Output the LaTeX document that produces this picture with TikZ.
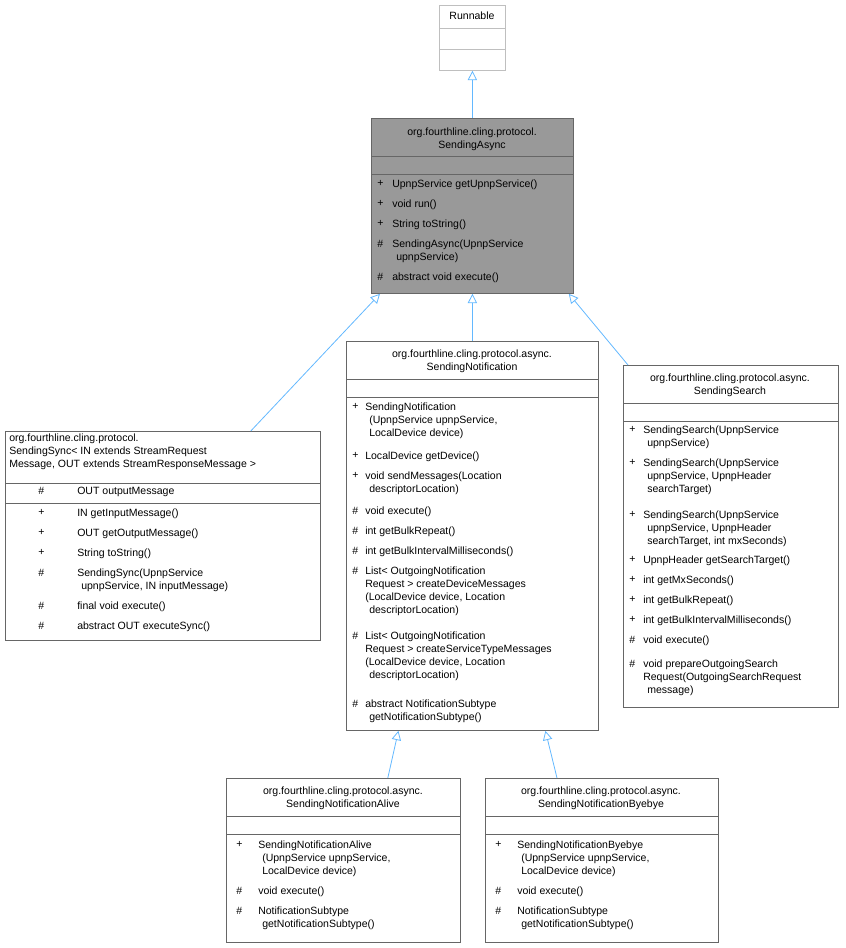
\documentclass[tikz,border=0pt]{standalone}
\usepackage{fontspec}
\setmainfont{Liberation Sans}
\usetikzlibrary{arrows.meta}
\definecolor{edgeblue}{HTML}{63B8FF}
\definecolor{boxline}{HTML}{666666}
\begin{document}
\begin{tikzpicture}[x=0.75pt,y=-0.75pt,
  cls/.style={draw=boxline, line width=0.6pt, anchor=north west, inner sep=0pt},
  sep/.style={draw=boxline, line width=0.6pt},
  txt/.style={inner sep=0pt, font=\fontsize{7.9}{9.75}\selectfont},
  inherit/.style={draw=edgeblue, line width=0.6pt, -{Triangle[open, length=7pt, width=7pt]}}]

 % Parameters
 \def\mem#1#2#3#4#5{%
   \node[txt, anchor=north west] at (#1,#3-6) {#4};
   \node[txt, anchor=north west, align=left] at (#2,#3-6) {#5};}
 \useasboundingbox (0,0) rectangle (845,948);

 % Runnable
 \node[cls, draw=gray!50, minimum width=49.5pt, minimum height=48.75pt] (runnable) at (439,5) {};
 \draw[draw=gray!50] (439,28) -- (505,28) (439,49) -- (505,49);
 \node[txt] at (472,16) {Runnable};

 % SendingAsync
 \node[cls, fill=black!40, minimum width=151.5pt, minimum height=131.25pt] (async) at (371,118) {};
 \draw[sep] (371,156) -- (573,156) (371,174) -- (573,174);
 \node[txt, align=center] at (472,139) {org.fourthline.cling.protocol.\\SendingAsync};
 \mem{377}{392}{186}{+}{UpnpService getUpnpService()}
 \mem{377}{392}{206}{+}{void run()}
 \mem{377}{392}{226}{+}{String toString()}
 \mem{377}{392}{246}{\#}{SendingAsync(UpnpService\\\hspace*{3pt}upnpService)}
 \mem{377}{392}{279}{\#}{abstract void execute()}

 % SendingSync
 \node[cls, fill=white, minimum width=236.25pt, minimum height=156.75pt] (sync) at (5,431) {};
 \draw[sep] (5,483) -- (320,483) (5,503) -- (320,503);
 \node[txt, anchor=north west, align=left] at (9,434) {org.fourthline.cling.protocol.\\SendingSync\textless{} IN extends StreamRequest\\Message, OUT extends StreamResponseMessage \textgreater};
 \mem{38}{77}{493}{\#}{OUT outputMessage}
 \mem{38}{77}{515}{+}{IN getInputMessage()}
 \mem{38}{77}{535}{+}{OUT getOutputMessage()}
 \mem{38}{77}{555}{+}{String toString()}
 \mem{38}{77}{575}{\#}{SendingSync(UpnpService\\\hspace*{3pt}upnpService, IN inputMessage)}
 \mem{38}{77}{608}{\#}{final void execute()}
 \mem{38}{77}{628}{\#}{abstract OUT executeSync()}

 % SendingNotification
 \node[cls, fill=white, minimum width=189pt, minimum height=291.75pt] (notif) at (346,341) {};
 \draw[sep] (346,379) -- (598,379) (346,397) -- (598,397);
 \node[txt, align=center] at (472,361) {org.fourthline.cling.protocol.async.\\SendingNotification};
 \mem{352}{365}{409}{+}{SendingNotification\\\hspace*{3pt}(UpnpService upnpService,\\\hspace*{3pt}LocalDevice device)}
 \mem{352}{365}{458}{+}{LocalDevice getDevice()}
 \mem{352}{365}{478}{+}{void sendMessages(Location\\\hspace*{3pt}descriptorLocation)}
 \mem{352}{365}{513}{\#}{void execute()}
 \mem{352}{365}{533}{\#}{int getBulkRepeat()}
 \mem{352}{365}{553}{\#}{int getBulkIntervalMilliseconds()}
 \mem{352}{365}{573}{\#}{List\textless{} OutgoingNotification\\Request \textgreater{} createDeviceMessages\\(LocalDevice device, Location\\\hspace*{3pt}descriptorLocation)}
 \mem{352}{365}{638}{\#}{List\textless{} OutgoingNotification\\Request \textgreater{} createServiceTypeMessages\\(LocalDevice device, Location\\\hspace*{3pt}descriptorLocation)}
 \mem{352}{365}{706}{\#}{abstract NotificationSubtype\\\hspace*{3pt}getNotificationSubtype()}

 % SendingSearch
 \node[cls, fill=white, minimum width=161.25pt, minimum height=256.5pt] (search) at (623,365) {};
 \draw[sep] (623,403) -- (838,403) (623,421) -- (838,421);
 \node[txt, align=center] at (730,385) {org.fourthline.cling.protocol.async.\\SendingSearch};
 \mem{629}{643}{432}{+}{SendingSearch(UpnpService\\\hspace*{3pt}upnpService)}
 \mem{629}{643}{465}{+}{SendingSearch(UpnpService\\\hspace*{3pt}upnpService, UpnpHeader\\\hspace*{3pt}searchTarget)}
 \mem{629}{643}{517}{+}{SendingSearch(UpnpService\\\hspace*{3pt}upnpService, UpnpHeader\\\hspace*{3pt}searchTarget, int mxSeconds)}
 \mem{629}{643}{562}{+}{UpnpHeader getSearchTarget()}
 \mem{629}{643}{582}{+}{int getMxSeconds()}
 \mem{629}{643}{602}{+}{int getBulkRepeat()}
 \mem{629}{643}{622}{+}{int getBulkIntervalMilliseconds()}
 \mem{629}{643}{642}{\#}{void execute()}
 \mem{629}{643}{666}{\#}{void prepareOutgoingSearch\\Request(OutgoingSearchRequest\\\hspace*{3pt}message)}

 % SendingNotificationAlive
 \node[cls, fill=white, minimum width=175.5pt, minimum height=123pt] (alive) at (226,778) {};
 \draw[sep] (226,816) -- (460,816) (226,834) -- (460,834);
 \node[txt, align=center] at (343,798) {org.fourthline.cling.protocol.async.\\SendingNotificationAlive};
 \mem{236}{258}{847}{+}{SendingNotificationAlive\\\hspace*{3pt}(UpnpService upnpService,\\\hspace*{3pt}LocalDevice device)}
 \mem{236}{258}{893}{\#}{void execute()}
 \mem{236}{258}{913}{\#}{NotificationSubtype\\\hspace*{3pt}getNotificationSubtype()}

 % SendingNotificationByebye
 \node[cls, fill=white, minimum width=174.75pt, minimum height=123pt] (byebye) at (485,778) {};
 \draw[sep] (485,816) -- (718,816) (485,834) -- (718,834);
 \node[txt, align=center] at (601,798) {org.fourthline.cling.protocol.async.\\SendingNotificationByebye};
 \mem{495}{517}{847}{+}{SendingNotificationByebye\\\hspace*{3pt}(UpnpService upnpService,\\\hspace*{3pt}LocalDevice device)}
 \mem{495}{517}{893}{\#}{void execute()}
 \mem{495}{517}{913}{\#}{NotificationSubtype\\\hspace*{3pt}getNotificationSubtype()}

 % inheritance edges
 \draw[inherit] (async.north) -- (runnable.south);
 \draw[inherit] ([xshift=-52.5pt]sync.north east) -- ([xshift=6.75pt]async.south west);
 \draw[inherit] (notif.north) -- (async.south);
 \draw[inherit] ([xshift=3.75pt]search.north west) -- ([xshift=-3.75pt]async.south east);
 \draw[inherit] ([xshift=-54.75pt]alive.north east) -- ([xshift=-55.5pt]notif.south);
 \draw[inherit] ([xshift=54pt]byebye.north west) -- ([xshift=54.75pt]notif.south);
\end{tikzpicture}
\end{document}
